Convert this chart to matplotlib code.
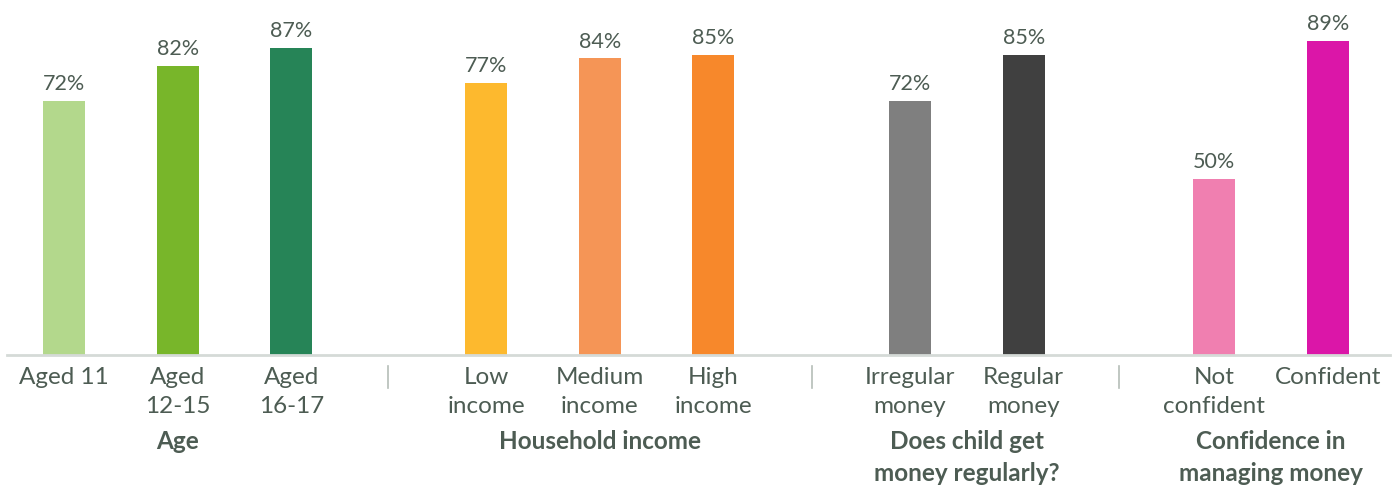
import matplotlib
matplotlib.use("Agg")
import matplotlib.pyplot as plt

# data
groups = ["Age", "Household income", "Does child get\nmoney regularly?", "Confidence in\nmanaging money"]
labels = [["Aged 11", "Aged\n12-15", "Aged\n16-17"],
          ["Low\nincome", "Medium\nincome", "High\nincome"],
          ["Irregular\nmoney", "Regular\nmoney"],
          ["Not\nconfident", "Confident"]]
values = [[72, 82, 87],
          [77, 84, 85],
          [72, 85],
          [50, 89]]
colors = [["#b3d88c", "#78b62a", "#268457"],
          ["#fdb92e", "#f59556", "#f7882b"],
          ["#7f7f7f", "#404040"],
          ["#f07fb0", "#db16a8"]]

W, H = 1399, 487
base = 355
group_start = [64, 486, 910, 1214]
step = 113.7
separators = [388, 812, 1119]
txt = "#4d5c53"

plt.rcParams['font.family'] = ['Lato', 'DejaVu Sans']
fig = plt.figure(figsize=(W / 100, H / 100), dpi=100)
ax = fig.add_axes([0, (H - base) / H, 1, base / H])
ax.set_xlim(0, W)
ax.set_ylim(0, base / 3.53)
ax.axis("off")

def fy(py):
    return 1 - py / H

for g, name in enumerate(groups):
    xs = [group_start[g] + i * step for i in range(len(values[g]))]
    ax.bar(xs, values[g], width=42, color=colors[g])
    for x, v, lab in zip(xs, values[g], labels[g]):
        ax.annotate(f"{v}%", (x, v), xytext=(0, 5), textcoords="offset points",
                    ha="center", va="bottom", fontsize=15.5, color=txt)
        fig.text(x / W, fy(367), lab, ha="center", va="top", fontsize=17.5,
                 color=txt, linespacing=1.45)
    cx = (xs[0] + xs[-1]) / 2
    fig.text(cx / W, fy(430), name, ha="center", va="top", fontsize=17.5,
             fontweight="bold", color=txt, linespacing=1.45)

ax.plot([7, 1390], [0, 0], color="#d5dad7", lw=2, clip_on=False)
for sx in separators:
    fig.add_artist(plt.Line2D([sx / W, sx / W], [fy(366), fy(388)], color="#b5bdb8", lw=1.2))

fig.savefig("out.png", dpi=100)
